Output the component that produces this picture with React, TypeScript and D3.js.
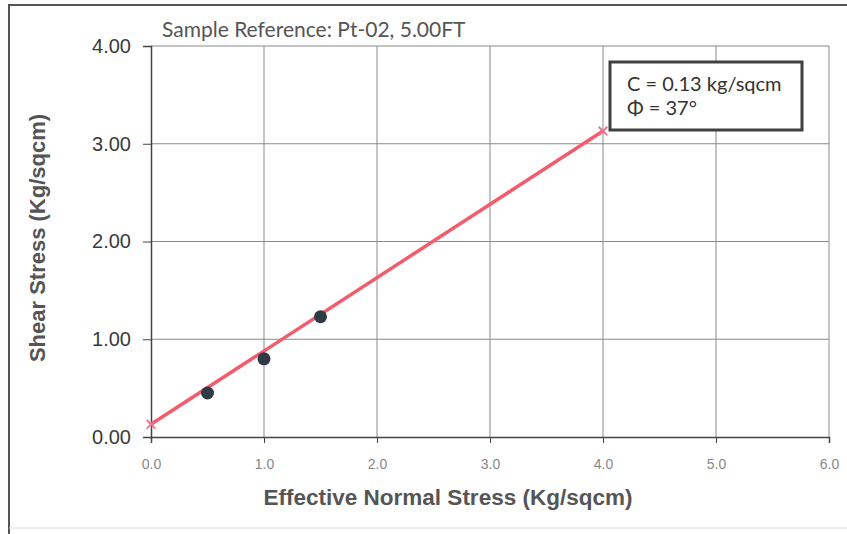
import { useEffect, useRef } from 'react'
import * as d3 from 'd3'

// measured points (effective normal stress, shear stress)
const normalStress = [0.5, 1.0, 1.5]
const shearStress = [0.45, 0.8, 1.23]

// failure envelope end points
const fitX = [0.0, 4.0]
const fitY = [0.13, 3.13]

const xTicks = [0, 1, 2, 3, 4, 5, 6]
const yTicks = [0, 1, 2, 3, 4]

const title = 'Sample Reference: Pt-02, 5.00FT'
const boxLines = ['C = 0.13 kg/sqcm', 'Φ = 37°']

export default function App() {
  const svgRef = useRef<SVGSVGElement>(null)
  const width = 847
  const height = 534

  useEffect(() => {
    if (!svgRef.current) return
    const svg = d3.select(svgRef.current)
    svg.selectAll('*').remove()

    const x = d3.scaleLinear().domain([0, 6]).range([151, 829])
    const y = d3.scaleLinear().domain([0, 4]).range([437, 46])

    // outer frame
    svg.append('path')
      .attr('d', `M9,${height} L9,5 L${width},5`)
      .attr('fill', 'none')
      .attr('stroke', '#555')
      .attr('stroke-width', 2)
    svg.append('line')
      .attr('x1', 9).attr('x2', width)
      .attr('y1', 528).attr('y2', 528)
      .attr('stroke', '#ddd')
      .attr('stroke-width', 1)

    // grid
    const grid = svg.append('g')
    grid.selectAll('.vg')
      .data(xTicks.slice(1))
      .enter().append('line')
      .attr('x1', d => x(d)).attr('x2', d => x(d))
      .attr('y1', y(4)).attr('y2', y(0))
      .attr('stroke', '#8a8a8a')
      .attr('stroke-width', 1)
    grid.selectAll('.hg')
      .data(yTicks.slice(1))
      .enter().append('line')
      .attr('x1', x(0)).attr('x2', x(6))
      .attr('y1', d => y(d)).attr('y2', d => y(d))
      .attr('stroke', '#8a8a8a')
      .attr('stroke-width', 1)

    // axes
    const yAxis = svg.append('g')
      .attr('transform', `translate(${x(0)},0)`)
      .call(d3.axisLeft(y).tickValues(yTicks).tickSize(8).tickPadding(12).tickFormat(d3.format('.2f')))
    yAxis.select('.domain').attr('stroke', '#444').attr('stroke-width', 1.5)
    yAxis.selectAll('.tick line').attr('stroke', '#444')
    yAxis.selectAll('text')
      .attr('font-family', 'Liberation Sans, Arial, sans-serif')
      .attr('font-size', 20)
      .attr('fill', '#3a3a3a')

    const xAxis = svg.append('g')
      .attr('transform', `translate(0,${y(0)})`)
      .call(d3.axisBottom(x).tickValues(xTicks).tickSize(6).tickPadding(16).tickFormat(d3.format('.1f')))
    xAxis.select('.domain').attr('stroke', '#444').attr('stroke-width', 1.5)
    xAxis.selectAll('.tick line').attr('stroke', '#444')
    xAxis.selectAll('text')
      .attr('font-family', 'Liberation Sans, Arial, sans-serif')
      .attr('font-size', 14)
      .attr('fill', '#888')

    // title
    svg.append('text')
      .attr('x', 162)
      .attr('y', 37)
      .attr('font-family', 'Lato, Open Sans, sans-serif')
      .attr('font-size', 21)
      .attr('fill', '#555')
      .text(title)

    // axis titles
    svg.append('text')
      .attr('transform', 'translate(45,238) rotate(-90)')
      .attr('text-anchor', 'middle')
      .attr('font-family', 'Liberation Sans, Arial, sans-serif')
      .attr('font-weight', 'bold')
      .attr('font-size', 22)
      .attr('fill', '#555')
      .text('Shear Stress (Kg/sqcm)')

    svg.append('text')
      .attr('x', 448)
      .attr('y', 505)
      .attr('text-anchor', 'middle')
      .attr('font-family', 'Liberation Sans, Arial, sans-serif')
      .attr('font-weight', 'bold')
      .attr('font-size', 22.5)
      .attr('fill', '#555')
      .text('Effective Normal Stress (Kg/sqcm)')

    // failure envelope
    const fit = fitX.map((v, i) => [v, fitY[i]] as [number, number])
    const line = d3.line<[number, number]>().x(d => x(d[0])).y(d => y(d[1]))
    svg.append('path')
      .datum(fit)
      .attr('d', line)
      .attr('fill', 'none')
      .attr('stroke', '#f25c6c')
      .attr('stroke-width', 3.5)

    // x markers at envelope ends
    svg.selectAll('.xm')
      .data(fit)
      .enter().append('path')
      .attr('transform', d => `translate(${x(d[0])},${y(d[1])})`)
      .attr('d', d3.symbol(d3.symbolX, 50)())
      .attr('stroke', '#f0708a')
      .attr('stroke-width', 1.8)
      .attr('fill', 'none')

    // measured points
    svg.selectAll('.pt')
      .data(normalStress)
      .enter().append('circle')
      .attr('cx', d => x(d))
      .attr('cy', (d, i) => y(shearStress[i]))
      .attr('r', 6.5)
      .attr('fill', '#2e3a44')

    // parameter box
    svg.append('rect')
      .attr('x', 610)
      .attr('y', 62)
      .attr('width', 192)
      .attr('height', 68)
      .attr('fill', '#fff')
      .attr('stroke', '#404040')
      .attr('stroke-width', 3)

    svg.selectAll('.bl')
      .data(boxLines)
      .enter().append('text')
      .attr('x', 627)
      .attr('y', (d, i) => 91 + i * 24)
      .attr('font-family', 'Lato, Open Sans, sans-serif')
      .attr('font-size', 20)
      .attr('fill', '#333')
      .text(d => d)
  }, [])

  return (
    <svg
      ref={svgRef}
      width={width}
      height={height}
      style={{ position: 'absolute', left: 0, top: 0, background: '#fff' }}
    />
  )
}
